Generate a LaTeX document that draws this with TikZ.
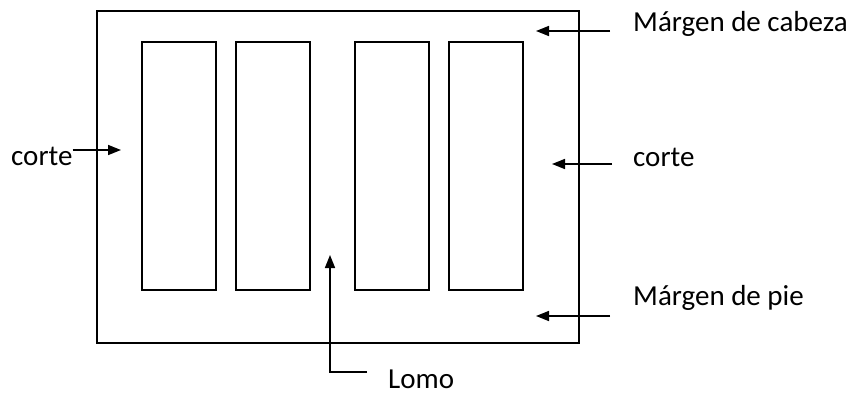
\documentclass[tikz,border=0pt]{standalone}
\usepackage{fontspec}
\setmainfont{Carlito}
\usetikzlibrary{positioning,arrows.meta}

\begin{document}
\begin{tikzpicture}[x=1pt,y=-1pt,
  panel/.style={draw, line width=1.6pt, inner sep=0pt, anchor=north west},
  caption/.style={font=\fontsize{29}{32}\selectfont, inner sep=0pt, anchor=base west},
  pointer/.style={line width=1.6pt, -{Triangle[length=13pt,width=10pt]}}]
  \useasboundingbox (0,0) rectangle (852,394);
  % page and columns
  \node[panel, minimum width=482pt, minimum height=332pt] (page) at (96,10) {};
  \foreach \name/\x in {colA/141, colB/235, colC/354, colD/448}
    \node[panel, minimum width=74pt, minimum height=248pt] (\name) at (\x,41) {};
  % labels
  \node[caption] (cabeza) at (633,31) {Márgen de cabeza};
  \node[caption] (corteR) at (633,166) {corte};
  \node[caption] (pie) at (633,305) {Márgen de pie};
  \node[caption] (corteL) at (11,165) {corte};
  \node[caption] (lomo) at (388,388) {Lomo};
  % arrow ends
  \coordinate (cabezaTip) at (536,31);
  \coordinate (corteRTip) at (552,164);
  \coordinate (pieTip) at (536,316);
  \coordinate (corteLTip) at (121,150);
  \coordinate (lomoTip) at (330,255);
  \draw[pointer] (610,31) -- (cabezaTip);
  \draw[pointer] (612,164) -- (corteRTip);
  \draw[pointer] (610,316) -- (pieTip);
  \draw[pointer] (corteL.east |- corteLTip) -- (corteLTip);
  \draw[pointer] (367,372) -| (lomoTip);
\end{tikzpicture}
\end{document}
